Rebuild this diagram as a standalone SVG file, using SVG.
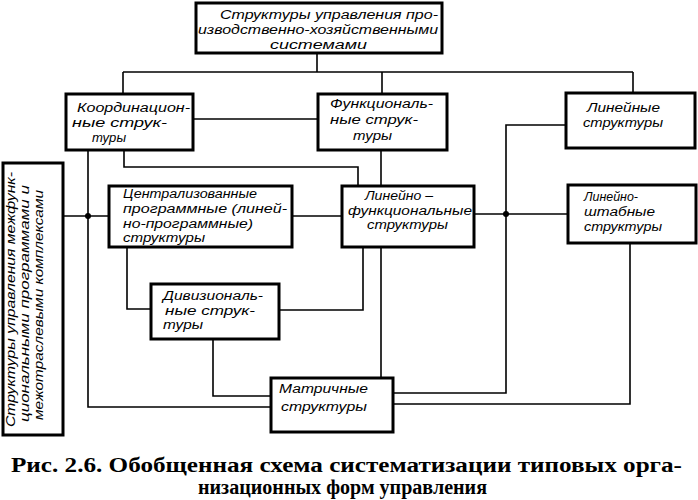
<svg xmlns="http://www.w3.org/2000/svg" width="698" height="500" viewBox="0 0 698 500">
<style>
.box{fill:#fff;stroke:#000;stroke-width:3}
.c{fill:none;stroke:#000;stroke-width:1.6}
.t{font-family:"Liberation Sans","DejaVu Sans",sans-serif;font-style:italic;font-size:12.5px;fill:#000}
.s{font-size:12px}
.cap{font-family:"Liberation Serif","DejaVu Serif",serif;font-weight:bold;font-size:20px;fill:#000}
</style>
<rect width="698" height="500" fill="#fff"/>
<g id="connectors">
<path class="c" d="M317 53V72"/>
<path class="c" d="M123 72H633"/>
<path class="c" d="M123 72V94"/>
<path class="c" d="M382 72V94"/>
<path class="c" d="M633 72V93"/>
<path class="c" d="M193 119H318"/>
<path class="c" d="M88 150V407H271"/>
<path class="c" d="M124 150V167H358V186"/>
<path class="c" d="M381 150V186"/>
<path class="c" d="M63 216H109"/>
<path class="c" d="M292 216H342"/>
<path class="c" d="M474 214H568"/>
<path class="c" d="M566 125H506V393H393"/>
<path class="c" d="M630 243V404H393"/>
<path class="c" d="M127 247V309H151"/>
<path class="c" d="M363 247V310H279"/>
<path class="c" d="M381 247V378"/>
<path class="c" d="M213 339V396H271"/>
<circle cx="88" cy="216" r="3" fill="#000"/>
<circle cx="506" cy="214" r="3" fill="#000"/>
</g>
<g id="n-top">
<rect class="box" x="196" y="3" width="246" height="50"/>
<text class="t" x="220" y="19" textLength="218" lengthAdjust="spacingAndGlyphs">Структуры управления про-</text>
<text class="t" x="198" y="34" textLength="240" lengthAdjust="spacingAndGlyphs">изводственно-хозяйственными</text>
<text class="t" x="270" y="49" textLength="97" lengthAdjust="spacingAndGlyphs">системами</text>
</g>
<g id="n-coord">
<rect class="box" x="66" y="94" width="127" height="56"/>
<text class="t" x="77" y="112" textLength="113" lengthAdjust="spacingAndGlyphs">Координацион-</text>
<text class="t" x="72" y="127" textLength="95" lengthAdjust="spacingAndGlyphs">ные струк-</text>
<text class="t" x="92" y="142" textLength="34" lengthAdjust="spacingAndGlyphs">туры</text>
</g>
<g id="n-func">
<rect class="box" x="318" y="94" width="129" height="56"/>
<text class="t" x="330" y="108" textLength="103" lengthAdjust="spacingAndGlyphs">Функциональ-</text>
<text class="t" x="330" y="124" textLength="88" lengthAdjust="spacingAndGlyphs">ные струк-</text>
<text class="t" x="353" y="140" textLength="39" lengthAdjust="spacingAndGlyphs">туры</text>
</g>
<g id="n-lin">
<rect class="box" x="566" y="93" width="129" height="55"/>
<text class="t" x="587" y="112" textLength="73" lengthAdjust="spacingAndGlyphs">Линейные</text>
<text class="t" x="583" y="127" textLength="80" lengthAdjust="spacingAndGlyphs">структуры</text>
</g>
<g id="n-linstab">
<rect class="box" x="568" y="185" width="128" height="58"/>
<text class="t" x="584" y="201" textLength="54" lengthAdjust="spacingAndGlyphs">Линейно-</text>
<text class="t" x="584" y="216" textLength="71" lengthAdjust="spacingAndGlyphs">штабные</text>
<text class="t" x="584" y="231" textLength="78" lengthAdjust="spacingAndGlyphs">структуры</text>
</g>
<g id="n-linfunc">
<rect class="box" x="342" y="186" width="132" height="61"/>
<text class="t s" x="365" y="200" textLength="68" lengthAdjust="spacingAndGlyphs">Линейно –</text>
<text class="t s" x="348" y="215" textLength="124" lengthAdjust="spacingAndGlyphs">функциональные</text>
<text class="t s" x="367" y="229" textLength="81" lengthAdjust="spacingAndGlyphs">структуры</text>
</g>
<g id="n-central">
<rect class="box" x="109" y="186" width="183" height="61"/>
<text class="t s" x="123" y="198" textLength="134" lengthAdjust="spacingAndGlyphs">Централизованные</text>
<text class="t s" x="123" y="213" textLength="164" lengthAdjust="spacingAndGlyphs">программные (линей-</text>
<text class="t s" x="123" y="228" textLength="130" lengthAdjust="spacingAndGlyphs">но-программные)</text>
<text class="t s" x="123" y="242" textLength="82" lengthAdjust="spacingAndGlyphs">структуры</text>
</g>
<g id="n-div">
<rect class="box" x="151" y="284" width="128" height="55"/>
<text class="t s" x="163" y="300" textLength="100" lengthAdjust="spacingAndGlyphs">Дивизиональ-</text>
<text class="t s" x="165" y="315" textLength="90" lengthAdjust="spacingAndGlyphs">ные струк-</text>
<text class="t s" x="163" y="329" textLength="40" lengthAdjust="spacingAndGlyphs">туры</text>
</g>
<g id="n-matrix">
<rect class="box" x="271" y="378" width="122" height="54"/>
<text class="t" x="279" y="393" textLength="89" lengthAdjust="spacingAndGlyphs">Матричные</text>
<text class="t" x="281" y="411" textLength="86" lengthAdjust="spacingAndGlyphs">структуры</text>
</g>
<g id="n-left">
<rect class="box" x="3" y="163" width="60" height="272"/>
<text class="t" transform="translate(15,427) rotate(-90)" textLength="255" lengthAdjust="spacingAndGlyphs">Структуры управления межфунк-</text>
<text class="t" transform="translate(29,422) rotate(-90)" textLength="237" lengthAdjust="spacingAndGlyphs">циональными программами и</text>
<text class="t" transform="translate(43,420) rotate(-90)" textLength="230" lengthAdjust="spacingAndGlyphs">межотраслевыми комплексами</text>
</g>
<g id="caption">
<text class="cap" x="11" y="472" textLength="671" lengthAdjust="spacingAndGlyphs">Рис. 2.6. Обобщенная схема систематизации типовых орга-</text>
<text class="cap" x="198" y="494" textLength="289" lengthAdjust="spacingAndGlyphs">низационных форм управления</text>
</g>
</svg>
